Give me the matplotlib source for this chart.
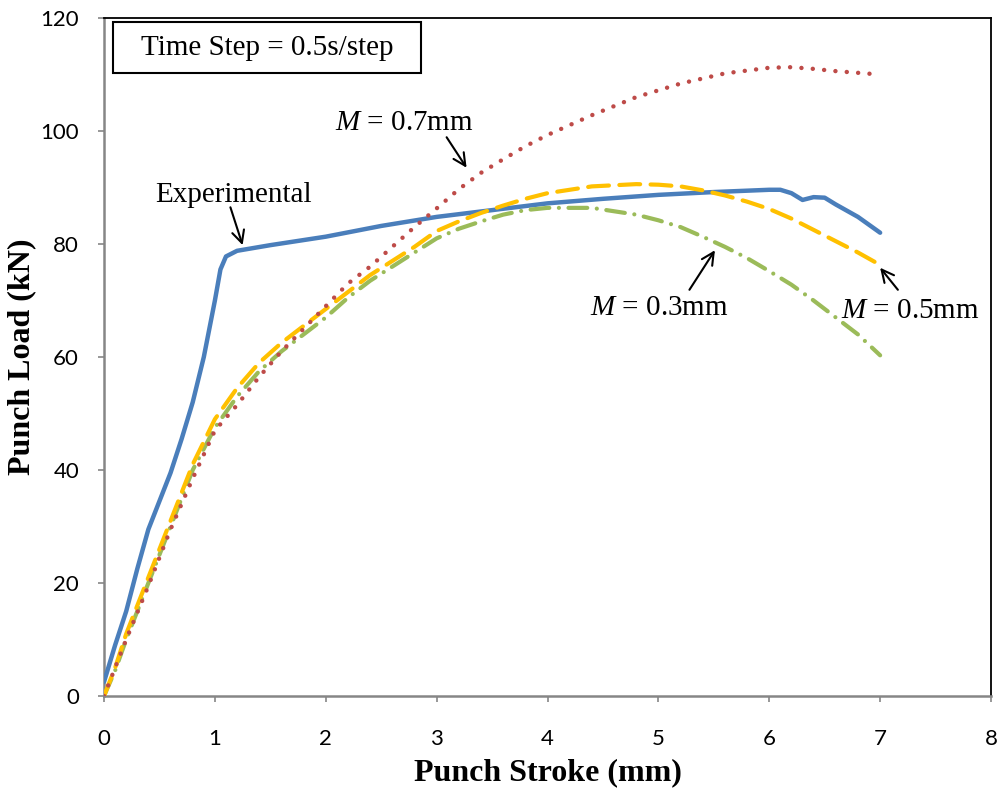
import matplotlib
matplotlib.use("Agg")
import matplotlib.pyplot as plt
from matplotlib.patches import Rectangle

# punch load vs stroke
exp_x = [0, 0.1, 0.2, 0.3, 0.4, 0.5, 0.6, 0.7, 0.8, 0.9, 1.0, 1.05, 1.1, 1.2, 1.5,
         2.0, 2.5, 3.0, 3.5, 4.0, 4.5, 5.0, 5.5, 6.0, 6.1, 6.2, 6.3, 6.4, 6.5, 6.6, 6.8, 7.0]
exp_y = [2.5, 9, 15, 22.5, 29.5, 34.5, 39.5, 45.5, 52, 60, 70, 75.5, 77.8, 78.8, 79.8,
         81.3, 83.2, 84.8, 86, 87.2, 88, 88.7, 89.2, 89.6, 89.6, 89.0, 87.8, 88.3, 88.2, 87.0, 84.8, 82.0]

m07_x = [0, 0.1, 0.2, 0.4, 0.6, 0.8, 1.0, 1.2, 1.4, 1.6, 1.8, 2.0, 2.2, 2.4, 2.6, 2.8,
         3.0, 3.2, 3.4, 3.6, 3.8, 4.0, 4.4, 4.8, 5.2, 5.6, 6.0, 6.2, 6.4, 6.6, 6.8, 7.0]
m07_y = [0, 5, 10, 19.5, 29.5, 38.5, 47, 51.5, 56.5, 61, 65, 69, 73, 76, 79.5, 83,
         86.3, 89.7, 92.6, 95, 97.3, 99.3, 102.8, 106, 108.4, 110.2, 111.2, 111.3, 111, 110.6, 110.3, 110.0]

m_x = [0, 0.1, 0.2, 0.4, 0.6, 0.8, 1.0, 1.2, 1.4, 1.6, 1.8, 2.0, 2.2, 2.4, 2.6, 2.8,
       3.0, 3.2, 3.4, 3.6, 3.8, 4.0, 4.4, 4.8, 5.0, 5.2, 5.4, 5.6, 5.8, 6.0, 6.2, 6.4, 6.6, 6.8, 7.0]
m05_y = [0, 5, 11, 21, 31, 41, 49, 54.5, 59, 62.5, 65.5, 68.5, 71.5, 74.5, 77, 79.5,
         82.3, 84, 85.5, 86.8, 88, 89, 90.2, 90.6, 90.5, 90.2, 89.5, 88.6, 87.5, 86.2, 84.5, 82.5, 80.5, 78.5, 76.3]
m03_y = [0, 4.5, 10, 20, 30, 40, 47.5, 53, 57.5, 61, 64, 67, 70.5, 73.5, 76, 78.5,
         81, 82.7, 84, 85.2, 86, 86.4, 86.4, 85.2, 84.2, 83, 81.3, 79.5, 77.5, 75.2, 72.8, 70, 67, 64, 60.3]

xticks = [0, 1, 2, 3, 4, 5, 6, 7, 8]
yticks = [0, 20, 40, 60, 80, 100, 120]

palette = {
    "exp": "#4A7EBB",
    "m07": "#BE4B48",
    "m05": "#FFC000",
    "m03": "#9BBB59",
}
SerifFont = "Liberation Serif"
TextSize = 21
plt.rcParams["mathtext.fontset"] = "custom"
plt.rcParams["mathtext.rm"] = SerifFont
plt.rcParams["mathtext.it"] = SerifFont + ":italic"

fig = plt.figure(figsize=(10.06, 7.94), dpi=100)
ax = fig.add_axes([0.1034, 0.1234, 0.8817, 0.8539])

ax.plot(exp_x, exp_y, color=palette["exp"], lw=3.2, solid_capstyle="round", zorder=3)
ax.plot(m_x, m03_y, color=palette["m03"], lw=3, linestyle=(0, (4.5, 2.3, 0.01, 2.3)),
        dash_capstyle="round", zorder=4)
ax.plot(m_x, m05_y, color=palette["m05"], lw=3, linestyle=(0, (5, 2.5)),
        dash_capstyle="round", zorder=5)
ax.plot(m07_x, m07_y, color=palette["m07"], lw=3.2, linestyle=(0, (0.01, 2.55)),
        dash_capstyle="round", zorder=6)

ax.set_xlim(0, 8)
ax.set_ylim(0, 120)
ax.set_xticks(xticks)
ax.set_yticks(yticks)
ax.tick_params(direction="out", length=4.5, width=1.2, color="#868686",
               labelsize=16)
ax.tick_params(axis="x", pad=19)
ax.tick_params(axis="y", pad=13.5)
for lab in ax.get_xticklabels() + ax.get_yticklabels():
    lab.set_fontname("Lato")

for side in ["left", "bottom"]:
    ax.spines[side].set_color("#868686")
    ax.spines[side].set_linewidth(1.8)
for side in ["top", "right"]:
    ax.spines[side].set_color("black")
    ax.spines[side].set_linewidth(1.3)

ax.set_xlabel("Punch Stroke (mm)", fontname=SerifFont, fontweight="bold",
              fontsize=23, labelpad=7)
ax.set_ylabel("Punch Load (kN)", fontname=SerifFont, fontweight="bold",
              fontsize=23, labelpad=3)

# time step box
ax.add_patch(Rectangle((0.0101, 0.919), 0.347, 0.075, transform=ax.transAxes,
                       fill=False, edgecolor="black", lw=1.5, zorder=7))
ax.text(0.184, 0.9565, "Time Step = 0.5s/step", transform=ax.transAxes,
        ha="center", va="center", fontname=SerifFont, fontsize=TextSize)

arrow = dict(arrowstyle="->", color="black", lw=1.5, mutation_scale=22,
             shrinkA=0, shrinkB=0)
ax.annotate("", xy=(1.25, 79.8), xytext=(1.14, 86.5), arrowprops=arrow)
ax.text(1.17, 88.7, "Experimental", ha="center", va="center",
        fontname=SerifFont, fontsize=TextSize)
ax.annotate("", xy=(3.27, 93.5), xytext=(3.09, 98.9), arrowprops=arrow)
ax.text(2.71, 101.4, "$M$ = 0.7mm", ha="center", va="center",
        fontname=SerifFont, fontsize=TextSize)
ax.annotate("", xy=(5.51, 78.9), xytext=(5.28, 71.9), arrowprops=arrow)
ax.text(5.01, 68.7, "$M$ = 0.3mm", ha="center", va="center",
        fontname=SerifFont, fontsize=TextSize)
ax.annotate("", xy=(7.0, 75.8), xytext=(7.16, 71.9), arrowprops=arrow)
ax.text(7.27, 68.1, "$M$ = 0.5mm", ha="center", va="center",
        fontname=SerifFont, fontsize=TextSize)

fig.savefig("out.png", dpi=100)
